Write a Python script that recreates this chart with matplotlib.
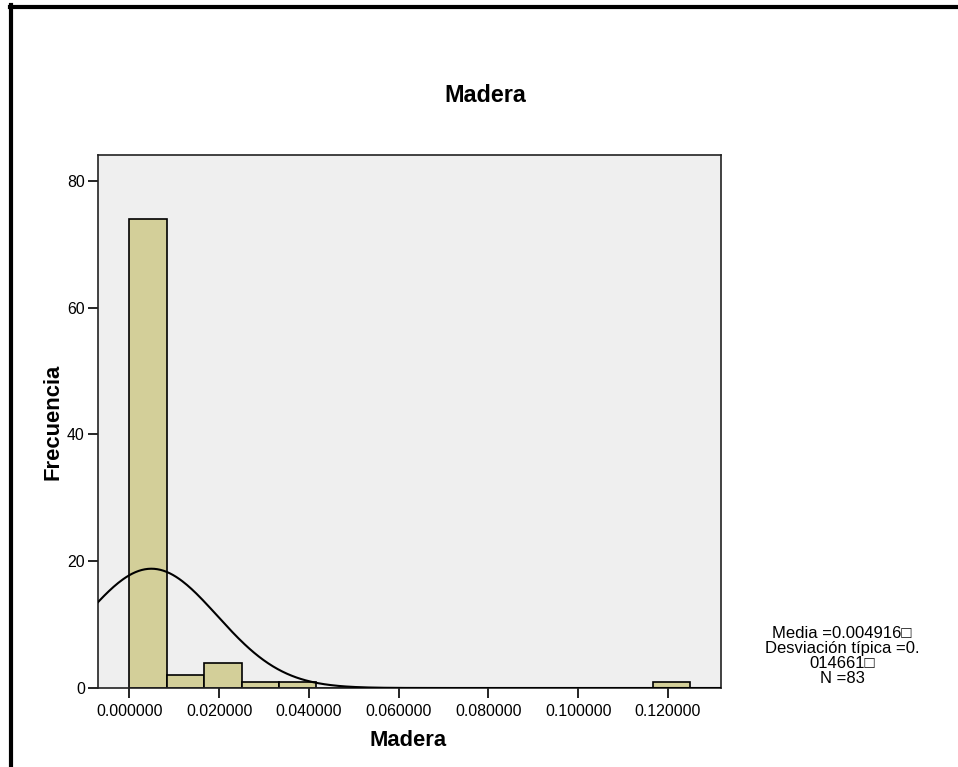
"""Histogram of Madera with fitted normal curve (SPSS style)."""

import numpy as np
import matplotlib.pyplot as plt
from matplotlib.lines import Line2D

plt.rcParams["font.family"] = ["Liberation Sans", "DejaVu Sans"]

# histogram data
bin_start = 0.0
bin_width = 0.125 / 15
counts = [74, 2, 4, 1, 1, 0, 0, 0, 0, 0, 0, 0, 0, 0, 1]

# summary statistics shown on the chart
mean = 0.004916
std = 0.014661
n_obs = 83

x_ticks = [0.0, 0.02, 0.04, 0.06, 0.08, 0.10, 0.12]
y_ticks = [0, 20, 40, 60, 80]

fig = plt.figure(figsize=(9.58, 7.67), dpi=100)
ax = fig.add_axes([0.1023, 0.1030, 0.6503, 0.6949])
ax.set_facecolor("#EFEFEF")

lefts = [bin_start + i * bin_width for i in range(len(counts))]
ax.bar(lefts, counts, width=bin_width, align="edge", color="#D3CF99",
       edgecolor="black", linewidth=1.2, zorder=2)

xlim = (-0.00697, 0.1318)
xs = np.linspace(xlim[0], xlim[1], 400)
ys = n_obs * bin_width / (std * np.sqrt(2 * np.pi)) * np.exp(-0.5 * ((xs - mean) / std) ** 2)
ax.plot(xs, ys, color="black", linewidth=1.5, zorder=3)

ax.set_xlim(*xlim)
ax.set_ylim(0, 84.1)
ax.set_xticks(x_ticks)
ax.set_xticklabels([f"{t:.6f}" for t in x_ticks])
ax.set_yticks(y_ticks)
ax.tick_params(direction="out", length=7.5, width=1.2, labelsize=11.4, color="black")
ax.tick_params(axis="x", pad=4)
ax.tick_params(axis="y", pad=2)
for side in ["top", "right", "bottom", "left"]:
    ax.spines[side].set_linewidth(1.2)
    ax.spines[side].set_color("#222222")

fig.text(0.5063, 0.876, "Madera", ha="center", va="center",
         fontsize=16.8, fontweight="bold")
fig.text(408.5 / 958, 1 - 740 / 767, "Madera", ha="center", va="center",
         fontsize=15.8, fontweight="bold")
fig.text(0.0553, 0.4498, "Frecuencia", ha="center", va="center",
         rotation=90, fontsize=15.8, fontweight="bold")

stats = (f"Media ={mean:.6f}\u25a1\nDesviación típica =0.\n"
         f"{str(std)[2:]}\u25a1\nN ={n_obs}")
fig.text(842 / 958, 1 - 656 / 767, stats, ha="center", va="center",
         fontsize=12, linespacing=1.02, multialignment="center")

# outer frame (top and left edges)
fig.add_artist(Line2D([9.5 / 958, 1.0], [1 - 7 / 767, 1 - 7 / 767],
                      transform=fig.transFigure, color="black", linewidth=3))
fig.add_artist(Line2D([11 / 958, 11 / 958], [0.0, 1 - 5 / 767],
                      transform=fig.transFigure, color="black", linewidth=3))

fig.savefig("out.png", dpi=100)
